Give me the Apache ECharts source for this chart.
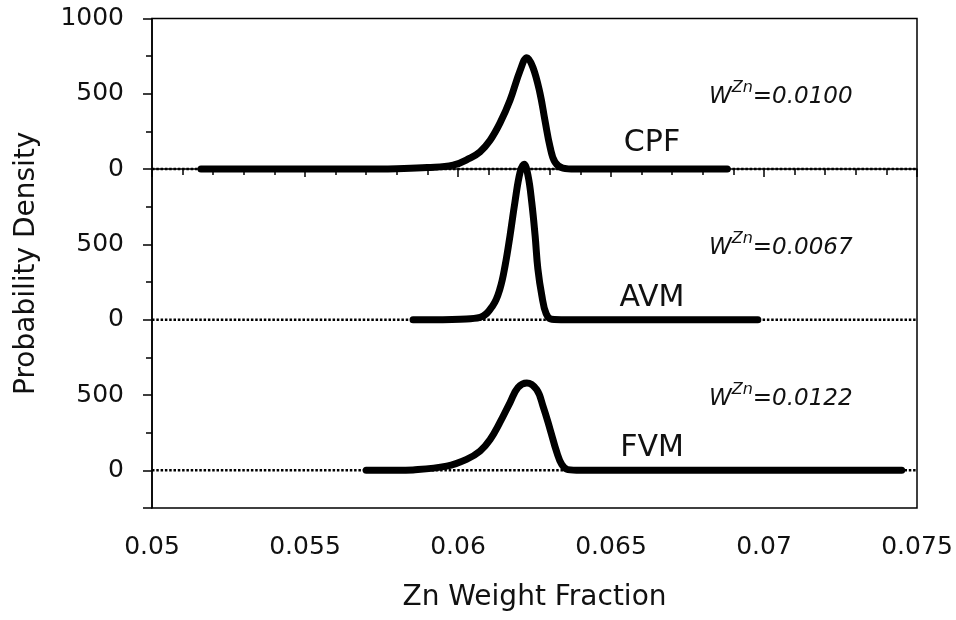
<!DOCTYPE html>
<html>
<head>
<meta charset="utf-8">
<script src="https://cdn.jsdelivr.net/npm/echarts@6/dist/echarts.min.js"></script>
<style>html,body{margin:0;padding:0;background:#fff}#c{width:956px;height:620px}</style>
</head>
<body>
<div id="c"></div>
<script>
// ---- data ----
const curveNames = ['CPF', 'AVM', 'FVM'];
const wValues = ['0.0100', '0.0067', '0.0122'];
const curveOffsets = [0, -1000, -2000];

const cpfX = [0.0516, 0.0570, 0.0580, 0.0590, 0.05984, 0.06039, 0.06072, 0.06105, 0.06137, 0.06170, 0.06203, 0.06225, 0.06245, 0.06268, 0.06284, 0.06301, 0.06317, 0.06343, 0.06382, 0.0688];
const cpfY = [0, 0, 3, 10, 26, 73, 115, 192, 305, 457, 655, 740, 675, 503, 325, 146, 46, 7, 0, 0];

const avmX = [0.05853, 0.0595, 0.06007, 0.06072, 0.06114, 0.06137, 0.06154, 0.06170, 0.06186, 0.06203, 0.06216, 0.06229, 0.06241, 0.06252, 0.06261, 0.06274, 0.06288, 0.06306, 0.0635, 0.0698];
const avmY = [0, 0, 3, 15, 95, 205, 360, 558, 780, 980, 1033, 955, 780, 558, 338, 160, 40, 3, 0, 0];

const fvmX = [0.0570, 0.0580, 0.05853, 0.05963, 0.06028, 0.06072, 0.06105, 0.06137, 0.06170, 0.06196, 0.06225, 0.06257, 0.06278, 0.06301, 0.06323, 0.06339, 0.06359, 0.0640, 0.0745];
const fvmY = [0, 0, 3, 28, 73, 128, 205, 318, 450, 550, 580, 536, 425, 272, 119, 40, 5, 0, 0];

const xTickValues = [0.05, 0.055, 0.06, 0.065, 0.07, 0.075];
const xTickLabels = ['0.05', '0.055', '0.06', '0.065', '0.07', '0.075'];
const yTickValues = [-2000, -1500, -1000, -500, 0, 500, 1000];
const yTickLabels = ['0', '500', '0', '500', '0', '500', '1000'];

// ---- build chart ----
const FONT = 'DejaVu Sans';
const curves = [[cpfX, cpfY], [avmX, avmY], [fvmX, fvmY]];
const xMin = 0.05, xMax = 0.075;

function nearestIdx(arr, v) {
  let best = 0;
  for (let i = 1; i < arr.length; i++) if (Math.abs(arr[i] - v) < Math.abs(arr[best] - v)) best = i;
  return best;
}

const series = [];
curveOffsets.forEach((off, i) => {
  series.push({
    type: 'line', z: 2, silent: true, showSymbol: false, symbol: 'none',
    data: [[xMin, off], [xMax, off]],
    lineStyle: { color: '#000', width: 2.5, type: [2.5, 1.8], cap: 'butt' }
  });
});
curves.forEach(([xs, ys], i) => {
  series.push({
    type: 'line', z: 3, silent: true, showSymbol: false, symbol: 'none',
    smooth: 0.4,
    data: xs.map((x, k) => [x, ys[k] + curveOffsets[i]]),
    lineStyle: { color: '#000', width: 7, cap: 'round', join: 'round' }
  });
});

const axisLineStyle = { color: '#000', width: 1.5 };
const annTops = [95, 246, 397];
const nameTops = [143, 298, 448];
const graphic = [];
curveNames.forEach((n, i) => {
  graphic.push({
    type: 'text', left: 709, top: annTops[i] - 15, silent: true,
    style: {
      text: '{m|W}{s|Zn}{m|=' + wValues[i] + '}',
      rich: {
        m: { fontSize: 23, fontStyle: 'italic', fontFamily: FONT, fill: '#111', verticalAlign: 'bottom', lineHeight: 29 },
        s: { fontSize: 16, fontStyle: 'italic', fontFamily: FONT, fill: '#111', verticalAlign: 'top', lineHeight: 29 }
      }
    }
  });
  graphic.push({
    type: 'text', x: 652, y: nameTops[i], silent: true,
    style: { text: n, fontSize: 30, fontFamily: FONT, fill: '#111', align: 'center', verticalAlign: 'middle' }
  });
});

const chart = echarts.init(document.getElementById('c'), null, { renderer: 'canvas' });
chart.setOption({
  animation: false,
  backgroundColor: '#fff',
  grid: { left: 152, right: 39, top: 17, bottom: 112, show: true, borderColor: '#000', borderWidth: 1.5, backgroundColor: 'transparent' },
  xAxis: {
    type: 'value', min: xMin, max: xMax, interval: 0.005,
    axisLine: { lineStyle: axisLineStyle },
    axisTick: { length: 8, lineStyle: axisLineStyle },
    minorTick: { show: true, splitNumber: 5, length: 6, lineStyle: axisLineStyle },
    splitLine: { show: false },
    axisLabel: { fontSize: 25, fontFamily: FONT, color: '#111', margin: 27,
      formatter: v => xTickLabels[nearestIdx(xTickValues, v)] },
    name: 'Zn Weight Fraction', nameLocation: 'middle', nameGap: 76,
    nameTextStyle: { fontSize: 28, fontFamily: FONT, color: '#111' }
  },
  yAxis: [{
    type: 'value', min: -2250, max: 1000, interval: 250,
    axisLine: { show: true, lineStyle: axisLineStyle },
    axisTick: { show: true, length: 6, lineStyle: axisLineStyle },
    splitLine: { show: false },
    axisLabel: { fontSize: 25, fontFamily: FONT, color: '#111', margin: 28, lineHeight: 25, padding: [12, 0, 0, 0],
      customValues: yTickValues,
      formatter: v => yTickLabels[nearestIdx(yTickValues, v)] },
    name: 'Probability Density', nameLocation: 'middle', nameGap: 111, nameRotate: 90,
    nameTextStyle: { fontSize: 28, fontFamily: FONT, color: '#111' }
  }, {
    type: 'value', min: -2250, max: 1000, interval: 250, position: 'left',
    axisLine: { show: false },
    axisTick: { show: true, length: 9, lineStyle: axisLineStyle, customValues: yTickValues.concat([-2250]) },
    axisLabel: { show: false },
    splitLine: { show: false }
  }],
  series: series,
  graphic: graphic
});
</script>
</body>
</html>
